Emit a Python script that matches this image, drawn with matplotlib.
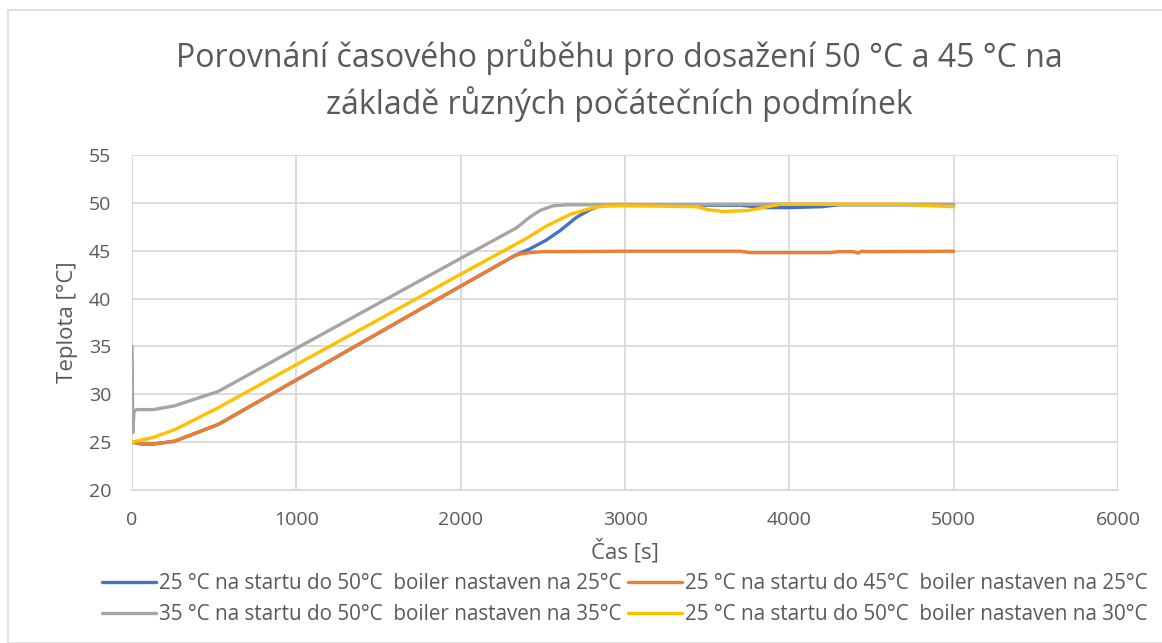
import matplotlib
matplotlib.use("Agg")
import matplotlib.pyplot as plt
from matplotlib.patches import Rectangle

title = "Porovnání časového průběhu pro dosažení 50 °C a 45 °C na\nzákladě různých počátečních podmínek"
xlabel = "Čas [s]"
ylabel = "Teplota [°C]"
labels = [
    "25 °C na startu do 50°C  boiler nastaven na 25°C",
    "25 °C na startu do 45°C  boiler nastaven na 25°C",
    "35 °C na startu do 50°C  boiler nastaven na 35°C",
    "25 °C na startu do 50°C  boiler nastaven na 30°C",
]
colors = ["#4472C4", "#ED7D31", "#A5A5A5", "#FFC000"]

# Series 1 (blue)
blue_t = [0, 60, 130, 260, 525, 1000, 1500, 2000, 2330, 2422, 2520, 2605, 2706, 2788, 2848, 3000, 3700, 3850, 4000, 4200, 4300, 5000]
blue_y = [25.0, 24.8, 24.8, 25.1, 26.85, 31.5, 36.4, 41.3, 44.5, 45.2, 46.1, 47.1, 48.5, 49.3, 49.7, 49.75, 49.75, 49.5, 49.5, 49.6, 49.8, 49.8]
# Series 2 (orange)
orange_t = [0, 60, 130, 260, 525, 1000, 1500, 2000, 2330, 2361, 2422, 2500, 3000, 3700, 3760, 4250, 4300, 4390, 4420, 4440, 4470, 5000]
orange_y = [25.0, 24.8, 24.8, 25.1, 26.85, 31.5, 36.4, 41.3, 44.5, 44.65, 44.8, 44.9, 44.95, 44.95, 44.8, 44.8, 44.9, 44.9, 44.75, 44.95, 44.9, 44.95]
# Series 3 (gray)
gray_t = [0, 5, 12, 28, 130, 260, 525, 1000, 1500, 2000, 2341, 2420, 2483, 2564, 2650, 3000, 4000, 5000]
gray_y = [35.0, 26.0, 28.2, 28.4, 28.4, 28.8, 30.3, 34.8, 39.5, 44.2, 47.4, 48.5, 49.2, 49.7, 49.8, 49.8, 49.85, 49.85]
# Series 4 (yellow)
yellow_t = [0, 130, 260, 525, 1000, 1500, 2000, 2402, 2524, 2666, 2808, 2889, 3000, 3437, 3500, 3597, 3750, 3944, 4200, 4674, 5000]
yellow_y = [25.0, 25.5, 26.3, 28.6, 33.1, 37.8, 42.55, 46.3, 47.6, 48.8, 49.5, 49.7, 49.7, 49.6, 49.3, 49.1, 49.2, 49.85, 49.85, 49.85, 49.6]

xticks = [0, 1000, 2000, 3000, 4000, 5000, 6000]
yticks = [20, 25, 30, 35, 40, 45, 50, 55]

plt.rcParams['font.family'] = ['Open Sans', 'DejaVu Sans']
fig = plt.figure(figsize=(11.62, 6.43), dpi=100)
ax = fig.add_axes([132/1162, 1 - 490/643, (1118 - 132)/1162, (490 - 155)/643])

txt = "#595959"
series = [(blue_t, blue_y), (orange_t, orange_y), (gray_t, gray_y), (yellow_t, yellow_y)]
handles = []
for (t, y), c, lab in zip(series, colors, labels):
    h, = ax.plot(t, y, color=c, lw=2.4, label=lab, solid_joinstyle='round', solid_capstyle='round')
    handles.append(h)

ax.set_xlim(0, 6000)
ax.set_ylim(20, 55)
ax.set_xticks(xticks)
ax.set_yticks(yticks)
ax.grid(True, color="#D9D9D9", lw=1.3)
ax.set_axisbelow(True)
for s in ["top", "right", "left"]:
    ax.spines[s].set_visible(False)
ax.spines["bottom"].set_color("#D9D9D9")
ax.spines["bottom"].set_linewidth(1.3)
ax.tick_params(length=0, labelsize=14, labelcolor=txt, pad=15)

ax.set_xlabel(xlabel, fontsize=16, color=txt, labelpad=7)
ax.set_ylabel(ylabel, fontsize=16, color=txt, labelpad=8)
fig.text(0.533, 0.874, title, ha="center", va="center", fontsize=23, color=txt,
         linespacing=1.4)

# column-major filling: order so rows read blue/orange, gray/yellow
order = [0, 2, 1, 3]
leg = fig.legend([handles[i] for i in order], [labels[i] for i in order],
                 loc="center", bbox_to_anchor=(625/1162, 1 - 599/643), ncol=2, frameon=False,
                 prop={'family': ['Open Sans'], 'size': 14.9},
                 handlelength=2.6, handletextpad=0.15, columnspacing=0.3,
                 labelspacing=0.5)
for t in leg.get_texts():
    t.set_color(txt)

fig.patches.append(Rectangle((8/1162, 0), 1.0, 1 - 10/643, transform=fig.transFigure,
                             fill=False, edgecolor="#D9D9D9", lw=1.2))

fig.savefig("out.png", dpi=100)
